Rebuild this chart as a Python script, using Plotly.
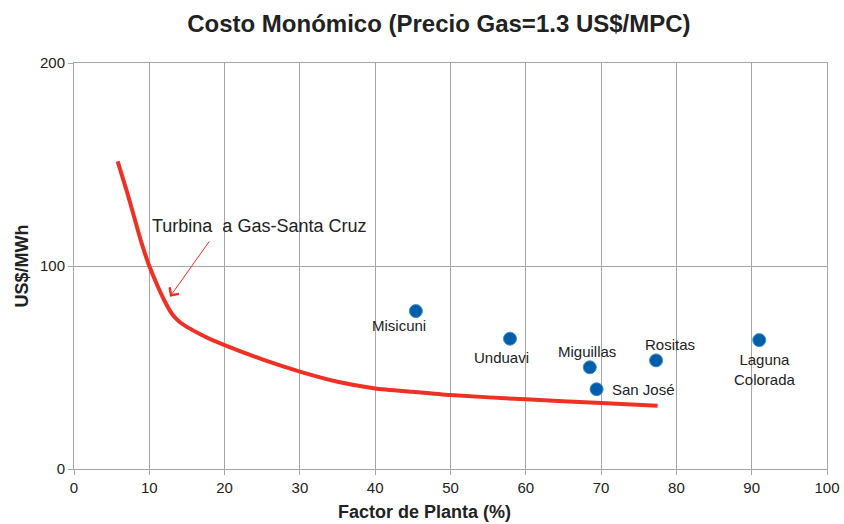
import plotly.graph_objects as go

# Turbine curve (Factor de Planta %, US$/MWh)
curve_x = [5.8, 7, 8, 9, 10, 11, 12, 13, 14, 15, 17.5, 20, 25, 30, 35, 40, 45, 50, 60, 70, 77.5]
curve_y = [151.5, 137, 124, 111, 100, 91, 83, 76.5, 72.5, 70, 65, 61, 54, 48, 43, 39.7, 38, 36.4, 34.3, 32.5, 31.2]

# Hydro projects
plants = ["Misicuni", "Unduavi", "Miguillas", "San José", "Rositas", "Laguna<br>Colorada"]
plant_x = [45.4, 57.9, 68.5, 69.4, 77.3, 91.0]
plant_y = [77.8, 64.2, 50.1, 39.3, 53.5, 63.5]
label_dx = [-17, -8, -3, 13, 14, 6]
label_dy = [-14, -19, 16, 0, 16, -29]
label_anchor = ["center", "center", "center", "left", "center", "center"]

x_ticks = list(range(0, 101, 10))
y_ticks = [0, 100, 200]

FONT = "Liberation Sans, Arial, sans-serif"
RED = "#ee3124"
BLUE = "#005ea8"

fig = go.Figure()
fig.add_trace(go.Scatter(x=curve_x, y=curve_y, mode="lines",
                         line=dict(color=RED, width=4, shape="spline", smoothing=0.6),
                         hoverinfo="skip", showlegend=False))
fig.add_trace(go.Scatter(x=plant_x, y=plant_y, mode="markers",
                         marker=dict(color=BLUE, size=13, line=dict(color="#3d8ed0", width=1)),
                         showlegend=False))

for name, x, y, dx, dy, anc in zip(plants, plant_x, plant_y, label_dx, label_dy, label_anchor):
    fig.add_annotation(x=x, y=y, text=name, showarrow=False, xshift=dx, yshift=dy,
                       xanchor=anc, font=dict(family=FONT, size=15, color="#222"),
                       align="center")

fig.add_annotation(x=12.75, y=84.9, ax=18.1, ay=112.8, axref="x", ayref="y",
                   showarrow=True, arrowhead=4, arrowsize=2.2, arrowwidth=1,
                   arrowcolor=RED, text="")
fig.add_annotation(x=10.1, y=119.7, text="Turbina  a Gas-Santa Cruz", showarrow=False,
                   xanchor="left", yanchor="middle",
                   font=dict(family=FONT, size=18, color="#222"))

# x-axis title (centred slightly left of the plot centre, as in the reference)
fig.add_annotation(xref="paper", yref="paper", x=0.466, y=-0.106, text="<b>Factor de Planta (%)</b>",
                   showarrow=False, xanchor="center", yanchor="middle",
                   font=dict(family=FONT, size=18, color="#222"))

fig.update_layout(
    width=844, height=524,
    margin=dict(l=74, r=17, t=63, b=55),
    paper_bgcolor="white", plot_bgcolor="white",
    title=dict(text="<b>Costo Monómico (Precio Gas=1.3 US$/MPC)</b>", x=0.52, xanchor="center",
               y=0.955, yanchor="middle", font=dict(family=FONT, size=24, color="#222")),
    font=dict(family=FONT, size=15, color="#222"),
    xaxis=dict(range=[0, 100], tickvals=x_ticks, ticktext=[str(v) for v in x_ticks],
               showgrid=True, gridcolor="#a6a6a6", gridwidth=1,
               showline=True, linecolor="#a6a6a6", linewidth=1, mirror=True,
               ticks="outside", ticklen=5, tickcolor="#a6a6a6", zeroline=False,
               automargin=False,
               tickfont=dict(family=FONT, size=15, color="#222")),
    yaxis=dict(range=[0, 200], tickvals=y_ticks, ticktext=[str(v) for v in y_ticks],
               showgrid=True, gridcolor="#a6a6a6", gridwidth=1,
               showline=True, linecolor="#a6a6a6", linewidth=1, mirror=True,
               ticks="outside", ticklen=5, tickcolor="#a6a6a6", zeroline=False,
               automargin=False,
               title=dict(text="<b>US$/MWh</b>", standoff=6,
                          font=dict(family=FONT, size=18, color="#222")),
               tickfont=dict(family=FONT, size=15, color="#222")),
)

fig.write_html("out.html", config={"displayModeBar": False},
               post_script="document.body.style.margin='0';document.body.style.overflow='hidden';")
